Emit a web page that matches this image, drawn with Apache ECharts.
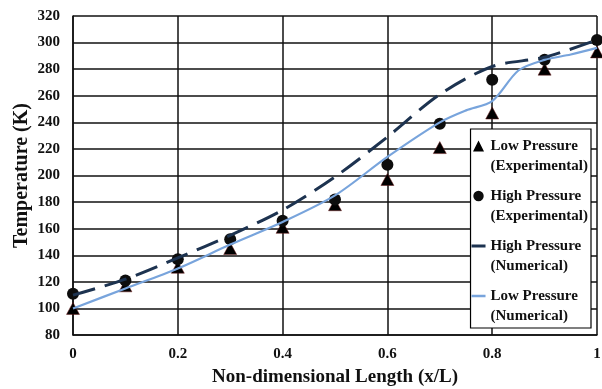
<!DOCTYPE html>
<html>
<head>
<meta charset="utf-8">
<script src="https://cdn.jsdelivr.net/npm/echarts@6/dist/echarts.min.js"></script>
<style>
  html, body { margin: 0; padding: 0; background: #fff; }
  #chart { width: 602px; height: 389px; }
</style>
</head>
<body>
<div id="chart"></div>
<script>
// measurement positions along the tube
const expX = [0, 0.1, 0.2, 0.3, 0.4, 0.5, 0.6, 0.7, 0.8, 0.9, 1.0];
const lowExp = [100, 117, 131, 145, 161, 178, 197, 221, 247, 280, 293];
const highExp = [111, 121, 137, 152, 166, 182, 208, 239, 272, 287, 302];

// numerical results
const highNumX = [0, 0.1, 0.2, 0.3, 0.4, 0.5, 0.6, 0.7, 0.8, 0.9, 1.0];
const highNum = [110, 122, 138, 155, 174, 199, 229, 261, 282, 289, 302];
const lowNumX = [0, 0.1, 0.2, 0.3, 0.4, 0.5, 0.6, 0.7, 0.75, 0.8, 0.85, 0.9, 0.95, 1.0];
const lowNum = [100, 115, 130, 148, 165, 185, 214, 240, 249, 256, 279, 287, 291, 296];

const xTicks = [0, 0.2, 0.4, 0.6, 0.8, 1];

const pairs = (xs, ys) => xs.map((x, i) => [x, ys[i]]);

const font = "'Liberation Serif', 'DejaVu Serif', serif";

// legend icons: 14x40 box, the visible shape sits level with the first text line
const pad = " M0 0 L0.01 0 Z M13.99 40 L14 40 Z";
const iconTri = "path://M1.5 15.5 L7 4.5 L12.5 15.5 Z" + pad;
const iconDot = "path://M1.8 10 A5.2 5.2 0 1 0 12.2 10 A5.2 5.2 0 1 0 1.8 10 Z" + pad;
const iconDark = "path://M0 8.5 L14 8.5 L14 11.5 L0 11.5 Z" + pad;
const iconLight = "path://M0 8.8 L14 8.8 L14 11.2 L0 11.2 Z" + pad;
const plain = { borderWidth: 0 };
const noLine = { type: "solid", width: 0 };

const chart = echarts.init(document.getElementById("chart"));
const option = {
  animation: false,
  textStyle: { fontFamily: font },
  grid: { left: 73, right: 5, top: 16, bottom: 54, outerBoundsMode: "none", containLabel: false },
  legend: {
    orient: "vertical",
    right: 11,
    top: 129,
    padding: [7, 3, 2, 1],
    itemGap: 10,
    itemWidth: 14,
    itemHeight: 40,
    backgroundColor: "#fff",
    borderColor: "#000",
    borderWidth: 1.2,
    borderRadius: 0,
    textStyle: {
      fontFamily: font,
      fontWeight: "bold",
      fontSize: 15,
      color: "#111",
      lineHeight: 20,
    },
    data: [
      { name: "Low Pressure\n(Experimental)", icon: iconTri, itemStyle: plain },
      { name: "High Pressure\n(Experimental)", icon: iconDot, itemStyle: plain },
      { name: "High Pressure\n(Numerical)", icon: iconDark, itemStyle: plain, lineStyle: noLine },
      { name: "Low Pressure\n(Numerical)", icon: iconLight, itemStyle: plain, lineStyle: noLine },
    ],
  },
  xAxis: {
    type: "value",
    min: 0,
    max: 1,
    interval: 0.2,
    name: "Non-dimensional Length (x/L)",
    nameLocation: "middle",
    nameGap: 33,
    nameMoveOverlap: false,
    nameTextStyle: { fontFamily: font, fontWeight: "bold", fontSize: 19, color: "#111" },
    axisLine: { show: true, lineStyle: { color: "#111", width: 1.5 } },
    axisTick: { show: false },
    axisLabel: {
      fontFamily: font,
      fontWeight: "bold",
      fontSize: 15,
      color: "#111",
      margin: 12,
      formatter: (v) => (xTicks.includes(+v.toFixed(1)) ? String(+v.toFixed(1)) : ""),
    },
    splitLine: { show: true, lineStyle: { color: "#111", width: 1.5 } },
  },
  yAxis: {
    type: "value",
    min: 80,
    max: 320,
    interval: 20,
    name: "Temperature (K)",
    nameLocation: "middle",
    nameGap: 41,
    nameMoveOverlap: false,
    nameTextStyle: { fontFamily: font, fontWeight: "bold", fontSize: 20, color: "#111" },
    axisLine: { show: true, lineStyle: { color: "#111", width: 1.5 } },
    axisTick: { show: false },
    axisLabel: { fontFamily: font, fontWeight: "bold", fontSize: 15, color: "#111", margin: 13 },
    splitLine: { show: true, lineStyle: { color: "#111", width: 1.5 } },
  },
  series: [
    {
      name: "Low Pressure\n(Experimental)",
      type: "scatter",
      symbol: "triangle",
      symbolSize: [13, 12],
      itemStyle: { color: "#000", opacity: 1, borderColor: "#6b1a1a", borderWidth: 0.5 },
      data: pairs(expX, lowExp),
      z: 2,
    },
    {
      name: "High Pressure\n(Experimental)",
      type: "scatter",
      symbol: "circle",
      symbolSize: 12,
      itemStyle: { color: "#0d0d0d", opacity: 1 },
      data: pairs(expX, highExp),
      z: 3,
    },
    {
      name: "High Pressure\n(Numerical)",
      type: "line",
      symbol: "none",
      smooth: 0.3,
      lineStyle: { color: "#1d3350", width: 3, type: [23, 10] },
      itemStyle: { color: "#1d3350" },
      data: pairs(highNumX, highNum),
      z: 4,
    },
    {
      name: "Low Pressure\n(Numerical)",
      type: "line",
      symbol: "none",
      smooth: 0.3,
      lineStyle: { color: "#78a4dc", width: 2.2 },
      itemStyle: { color: "#78a4dc" },
      data: pairs(lowNumX, lowNum),
      z: 5,
    },
  ],
};
chart.setOption(option);
</script>
</body>
</html>
